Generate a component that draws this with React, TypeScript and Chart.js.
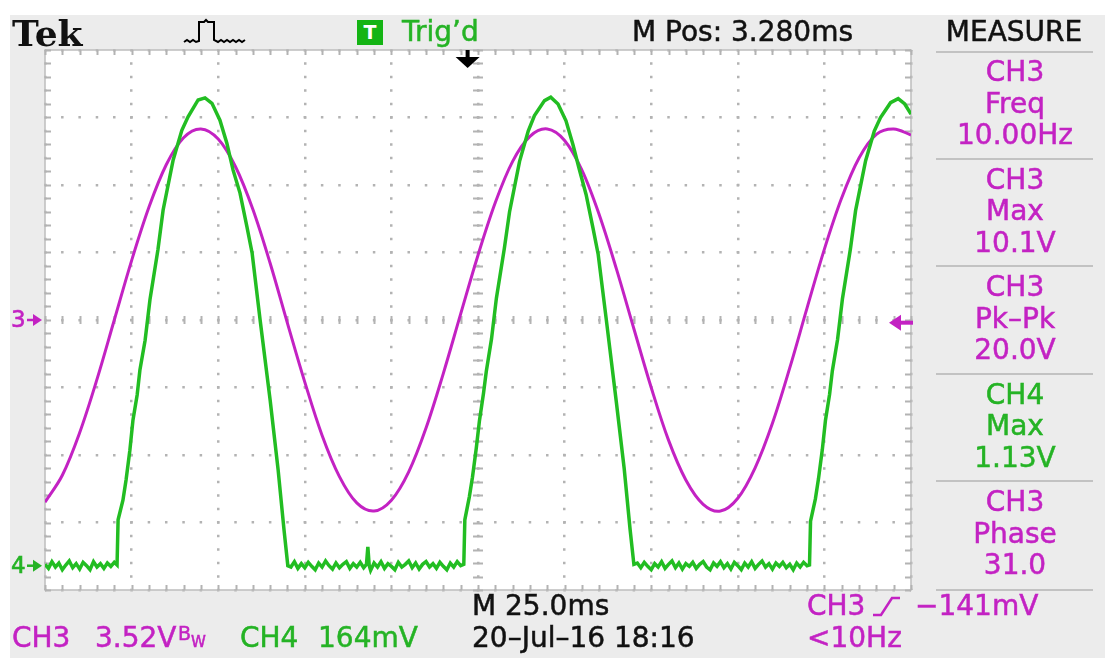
import React, { useEffect, useRef } from "react";
import { Chart, registerables } from "chart.js";

Chart.register(...registerables);

const W = 1105;
const H = 658;

// Time axis (ms): 10 divisions x 25 ms/div
const X_MIN = 0;
const X_MAX = 250;
const X_STEP = 25;
const X_MINOR = 5;
// Vertical axis in divisions
const Y_MIN = -4;
const Y_MAX = 4;
const Y_STEP = 1;
const Y_MINOR = 0.2;

// CH3 (magenta) trace, in divisions
const ch3TimeMs = [0, 5, 10, 15, 20, 25, 30, 35, 40, 45, 50, 55, 60, 65, 70, 75, 80, 85, 90, 95, 100, 105, 110, 115, 120, 125, 130, 135, 140, 145, 150, 155, 160, 165, 170, 175, 180, 185, 190, 195, 200, 205, 210, 215, 220, 225, 230, 235, 240, 245, 250];
const ch3Div = [-2.7, -2.3, -1.67, -0.88, 0.0, 0.88, 1.67, 2.3, 2.7, 2.83, 2.68, 2.27, 1.64, 0.84, -0.05, -0.92, -1.71, -2.32, -2.71, -2.83, -2.67, -2.25, -1.6, -0.79, 0.09, 0.96, 1.74, 2.35, 2.72, 2.83, 2.66, 2.22, 1.56, 0.75, -0.13, -1.0, -1.78, -2.37, -2.73, -2.83, -2.64, -2.19, -1.53, -0.71, 0.18, 1.05, 1.81, 2.4, 2.75, 2.83, 2.74];

// CH4 (green) trace, [time ms, divisions], segment by segment
const ch4Low1: [number, number][] = [
  [0, -3.62], [1, -3.68], [2, -3.58], [3, -3.66], [4, -3.6], [5, -3.7], [6, -3.63], [7, -3.57], [8, -3.67], [9, -3.61], [10, -3.69],
  [11, -3.59], [12, -3.64], [13, -3.7], [14, -3.58], [15, -3.66], [16, -3.61], [17, -3.68], [18, -3.6], [19, -3.65], [20, -3.59], [20.8, -3.63],
];
const ch4Pulse1: [number, number][] = [
  [21.1, -2.96], [22.5, -2.67], [23.4, -2.37], [24.5, -1.93], [25.4, -1.48], [26.6, -1.11], [27.4, -0.74], [28.9, -0.3], [30.3, 0.3],
  [32.6, 1.04], [34.1, 1.63], [37.0, 2.37], [39.5, 2.81], [41.3, 3.01], [44.2, 3.26], [46.2, 3.29], [48.2, 3.21], [50.5, 2.96],
  [52.5, 2.62], [54.3, 2.22], [56.3, 1.88], [58.3, 1.38], [59.8, 0.99], [62.1, 0.0], [65.0, -1.19], [67.3, -2.22], [69.0, -3.11], [70.1, -3.64],
];
const ch4Low2: [number, number][] = [
  [71, -3.66], [72, -3.58], [73, -3.68], [74, -3.61], [75, -3.67], [76, -3.59], [77, -3.65], [78, -3.7], [79, -3.6], [80, -3.66],
  [81, -3.57], [82, -3.64], [83, -3.69], [84, -3.6], [85, -3.67], [86, -3.62], [87, -3.58], [88, -3.68], [89, -3.61], [90, -3.66],
  [91, -3.59], [92, -3.67], [92.8, -3.62], [93.2, -3.36], [93.6, -3.64], [94, -3.71], [95, -3.6], [96, -3.66], [97, -3.58], [98, -3.68],
  [99, -3.61], [100, -3.65], [101, -3.7], [102, -3.59], [103, -3.66], [104, -3.62], [105, -3.57], [106, -3.67], [107, -3.6], [108, -3.69],
  [109, -3.62], [110, -3.58], [111, -3.66], [112, -3.61], [113, -3.68], [114, -3.59], [115, -3.65], [116, -3.7], [117, -3.6], [118, -3.66],
  [119, -3.58], [120, -3.64], [120.9, -3.62],
];
const ch4Pulse2: [number, number][] = [
  [121.2, -2.96], [122.5, -2.62], [123.4, -2.33], [124.5, -1.9], [125.4, -1.5], [126.6, -1.08], [127.4, -0.76], [128.9, -0.28], [130.3, 0.32],
  [132.6, 1.06], [134.1, 1.6], [137.0, 2.35], [139.5, 2.8], [141.3, 3.03], [144.2, 3.25], [146.0, 3.3], [148.1, 3.2], [150.4, 2.95],
  [152.4, 2.6], [154.2, 2.24], [156.2, 1.86], [158.2, 1.36], [159.7, 0.97], [162.0, 0.02], [164.9, -1.2], [167.2, -2.2], [168.9, -3.1], [170.0, -3.62],
];
const ch4Low3: [number, number][] = [
  [171, -3.6], [172, -3.67], [173, -3.59], [174, -3.65], [175, -3.7], [176, -3.61], [177, -3.66], [178, -3.58], [179, -3.68], [180, -3.62],
  [181, -3.57], [182, -3.67], [183, -3.6], [184, -3.69], [185, -3.61], [186, -3.65], [187, -3.59], [188, -3.68], [189, -3.62], [190, -3.58],
  [191, -3.66], [192, -3.7], [193, -3.6], [194, -3.65], [195, -3.58], [196, -3.67], [197, -3.61], [198, -3.69], [199, -3.59], [200, -3.64],
  [201, -3.7], [202, -3.6], [203, -3.66], [204, -3.58], [205, -3.68], [206, -3.62], [207, -3.57], [208, -3.66], [209, -3.61], [210, -3.69],
  [211, -3.6], [212, -3.65], [213, -3.59], [214, -3.67], [215, -3.62], [216, -3.7], [217, -3.6], [218, -3.66], [219, -3.59], [220, -3.64], [220.7, -3.63],
];
const ch4Pulse3: [number, number][] = [
  [221.0, -2.98], [222.4, -2.65], [223.3, -2.35], [224.4, -1.92], [225.3, -1.49], [226.5, -1.1], [227.3, -0.75], [228.8, -0.29], [230.2, 0.31],
  [232.5, 1.05], [234.0, 1.62], [236.9, 2.36], [239.4, 2.8], [241.2, 3.0], [244.1, 3.22], [246.3, 3.28], [248.2, 3.2], [250, 3.05],
];

// Markers
const CH3_GROUND = 0;
const CH4_GROUND = -3.64;
const TRIG_LEVEL = -0.04;
const TRIG_POS_MS = 122;

// Measurement panel
const measureChannels = ["CH3", "CH3", "CH3", "CH4", "CH3"];
const measureNames = ["Freq", "Max", "Pk\u2013Pk", "Max", "Phase"];
const measureValues = ["10.00Hz", "10.1V", "20.0V", "1.13V", "31.0"];

const MAGENTA = "#c322c3";
const GREEN = "#22bd22";
const GREEN_TXT = "#25b325";
const GRID = "#b3b3b3";
const PANEL_BG = "#ececec";
const FONT = "'DejaVu Sans', 'Liberation Sans', sans-serif";

const scopeDecor = {
  id: "scopeDecor",
  beforeDraw(chart: any) {
    const { ctx, chartArea: a } = chart;
    ctx.save();
    ctx.fillStyle = "#ffffff";
    ctx.fillRect(0, 0, W, H);
    ctx.fillStyle = PANEL_BG;
    ctx.fillRect(10, 15, W - 10, H - 15);
    ctx.fillStyle = "#ffffff";
    ctx.fillRect(a.left, a.top, a.width, a.height);
    ctx.restore();
  },
  beforeDatasetsDraw(chart: any) {
    const { ctx, chartArea: a, scales } = chart;
    const x = scales.x;
    const y = scales.y;
    ctx.save();
    ctx.strokeStyle = "#bdbdbd";
    ctx.lineWidth = 1.5;
    ctx.strokeRect(a.left, a.top, a.width, a.height);
    const xc = x.getPixelForValue((X_MIN + X_MAX) / 2);
    const yc = y.getPixelForValue(0);
    ctx.strokeStyle = GRID;
    ctx.lineWidth = 2;
    ctx.beginPath();
    for (let t = X_MIN; t <= X_MAX + 1e-6; t += X_MINOR) {
      const px = Math.round(x.getPixelForValue(t)) + 0.5;
      ctx.moveTo(px, a.top);
      ctx.lineTo(px, a.top + 5);
      ctx.moveTo(px, a.bottom);
      ctx.lineTo(px, a.bottom - 5);
      ctx.moveTo(px, yc - 4);
      ctx.lineTo(px, yc + 4);
    }
    for (let v = Y_MIN; v <= Y_MAX + 1e-6; v += Y_MINOR) {
      const py = Math.round(y.getPixelForValue(v)) + 0.5;
      ctx.moveTo(a.left, py);
      ctx.lineTo(a.left + 6, py);
      ctx.moveTo(a.right, py);
      ctx.lineTo(a.right - 6, py);
      ctx.moveTo(xc - 5, py);
      ctx.lineTo(xc + 5, py);
    }
    ctx.stroke();
    // measure panel separators
    ctx.strokeStyle = "#c2c2c2";
    ctx.lineWidth = 2;
    ctx.beginPath();
    const seps = [52, 159, 266, 374, 481, 590];
    seps.forEach((sy) => {
      ctx.moveTo(936, sy);
      ctx.lineTo(1093, sy);
    });
    ctx.stroke();
    ctx.restore();
  },
  afterDraw(chart: any) {
    const { ctx, chartArea: a, scales } = chart;
    const x = scales.x;
    const y = scales.y;
    ctx.save();
    // channel ground markers
    const marker = (label: string, val: number, color: string) => {
      const py = y.getPixelForValue(val);
      ctx.fillStyle = color;
      ctx.strokeStyle = color;
      ctx.font = `23px ${FONT}`;
      ctx.textBaseline = "middle";
      ctx.textAlign = "left";
      ctx.lineWidth = 0.6;
      ctx.fillText(label, 11, py + 1);
      ctx.strokeText(label, 11, py + 1);
      ctx.lineWidth = 2.5;
      ctx.beginPath();
      ctx.moveTo(27, py);
      ctx.lineTo(36, py);
      ctx.stroke();
      ctx.beginPath();
      ctx.moveTo(33, py - 6);
      ctx.lineTo(42, py);
      ctx.lineTo(33, py + 6);
      ctx.closePath();
      ctx.fill();
    };
    marker("3", CH3_GROUND, MAGENTA);
    marker("4", CH4_GROUND, GREEN_TXT);
    // trigger level arrow (right)
    const ly = y.getPixelForValue(TRIG_LEVEL);
    ctx.fillStyle = MAGENTA;
    ctx.strokeStyle = MAGENTA;
    ctx.lineWidth = 4;
    ctx.beginPath();
    ctx.moveTo(897, ly);
    ctx.lineTo(913, ly);
    ctx.stroke();
    ctx.beginPath();
    ctx.moveTo(889, ly);
    ctx.lineTo(901, ly - 8);
    ctx.lineTo(901, ly + 8);
    ctx.closePath();
    ctx.fill();
    // trigger position arrow (top)
    const tx = x.getPixelForValue(TRIG_POS_MS);
    ctx.fillStyle = "#000";
    ctx.strokeStyle = "#000";
    ctx.lineWidth = 4;
    ctx.beginPath();
    ctx.moveTo(tx, a.top);
    ctx.lineTo(tx, a.top + 9);
    ctx.stroke();
    ctx.beginPath();
    ctx.moveTo(tx - 12, a.top + 7);
    ctx.lineTo(tx + 12, a.top + 7);
    ctx.lineTo(tx, a.top + 18);
    ctx.closePath();
    ctx.fill();
    // pulse glyph in header
    ctx.lineWidth = 2;
    ctx.beginPath();
    ctx.moveTo(184, 42);
    const wav1 = [187, 190, 193, 196];
    wav1.forEach((wx, i) => ctx.lineTo(wx, i % 2 ? 42 : 40));
    ctx.lineTo(199, 41);
    ctx.lineTo(199, 22);
    ctx.lineTo(204, 22);
    ctx.lineTo(206, 20);
    ctx.lineTo(208, 22);
    ctx.lineTo(214, 22);
    ctx.lineTo(214, 40);
    ctx.lineTo(218, 42);
    const wav2 = [221, 224, 227, 230, 233, 236, 239, 242, 245];
    wav2.forEach((wx, i) => ctx.lineTo(wx, i % 2 ? 42 : 40));
    ctx.stroke();
    // trigger slope glyph in footer
    ctx.strokeStyle = MAGENTA;
    ctx.lineWidth = 2.5;
    ctx.beginPath();
    ctx.moveTo(873, 615);
    ctx.lineTo(881, 615);
    ctx.lineTo(892, 598);
    ctx.lineTo(900, 598);
    ctx.stroke();
    ctx.restore();
  },
};

type Lbl = {
  text: string;
  x: number;
  y: number;
  color?: string;
  size?: number;
  center?: boolean;
  family?: string;
  weight?: number;
};

function Label({ text, x, y, color = "#111", size = 28, center = false, family = FONT, weight = 400 }: Lbl) {
  return (
    <div
      style={{
        position: "absolute",
        left: x,
        top: y,
        transform: `translate(${center ? "-50%" : "0"}, -50%)`,
        color,
        fontSize: size,
        fontFamily: family,
        fontWeight: weight,
        lineHeight: 1,
        whiteSpace: "pre",
        WebkitTextStroke: weight >= 700 ? "0px" : `0.5px ${color}`,
      }}
    >
      {text}
    </div>
  );
}

export default function App() {
  const canvasRef = useRef<HTMLCanvasElement | null>(null);

  useEffect(() => {
    const canvas = canvasRef.current;
    if (!canvas) return;
    const ch4Points = [...ch4Low1, ...ch4Pulse1, ...ch4Low2, ...ch4Pulse2, ...ch4Low3, ...ch4Pulse3];
    const chart = new Chart(canvas, {
      type: "line",
      data: {
        datasets: [
          {
            label: "CH4",
            data: ch4Points.map(([t, v]) => ({ x: t, y: v })),
            borderColor: GREEN,
            borderWidth: 3.5,
            pointRadius: 0,
            tension: 0,
            fill: false,
          },
          {
            label: "CH3",
            data: ch3TimeMs.map((t, i) => ({ x: t, y: ch3Div[i] })),
            borderColor: MAGENTA,
            borderWidth: 3,
            pointRadius: 0,
            tension: 0.35,
            fill: false,
          },
        ],
      },
      options: {
        responsive: false,
        animation: false,
        devicePixelRatio: 1,
        events: [],
        layout: { padding: { left: 45, top: 50, right: W - 911, bottom: H - 590 } },
        plugins: {
          legend: { display: false },
          tooltip: { enabled: false },
          title: { display: false },
        },
        scales: {
          x: {
            type: "linear",
            min: X_MIN,
            max: X_MAX,
            ticks: { display: false, stepSize: X_STEP },
            grid: { color: GRID, lineWidth: 2.5, drawTicks: false },
            border: { display: false, dash: [2.5, 11], dashOffset: 1.25 },
          },
          y: {
            type: "linear",
            min: Y_MIN,
            max: Y_MAX,
            ticks: { display: false, stepSize: Y_STEP },
            grid: { color: GRID, lineWidth: 2.5, drawTicks: false },
            border: { display: false, dash: [2.5, 14.82], dashOffset: 1.25 },
          },
        },
      },
      plugins: [scopeDecor],
    } as any);
    return () => chart.destroy();
  }, []);

  const blockTop = 72;
  const blockStep = 107.5;

  return (
    <div style={{ position: "fixed", left: 0, top: 0, width: W, height: H, background: "#fff", overflow: "hidden" }}>
      <canvas ref={canvasRef} width={W} height={H} style={{ position: "absolute", left: 0, top: 0 }} />
      {/* header */}
      <Label text="Tek" x={12} y={33} size={36} weight={700} family="'DejaVu Serif', 'Liberation Serif', serif" />
      <div
        style={{
          position: "absolute",
          left: 357,
          top: 20,
          width: 26,
          height: 25,
          background: "#14b414",
          color: "#fff",
          fontFamily: FONT,
          fontWeight: 700,
          fontSize: 19,
          lineHeight: "25px",
          textAlign: "center",
        }}
      >
        T
      </div>
      <Label text={"Trig\u2019d"} x={402} y={32} color={GREEN_TXT} />
      <Label text="M Pos: 3.280ms" x={632} y={32} />
      <Label text="MEASURE" x={1014} y={32} center />
      {/* measurement panel */}
      {measureChannels.map((ch, i) => {
        const c = ch === "CH4" ? GREEN_TXT : MAGENTA;
        const top = blockTop + i * blockStep;
        return (
          <React.Fragment key={i}>
            <Label text={ch} x={1015} y={top} color={c} center />
            <Label text={measureNames[i]} x={1015} y={top + 31.5} color={c} center />
            <Label text={measureValues[i]} x={1015} y={top + 63} color={c} center />
          </React.Fragment>
        );
      })}
      {/* footer */}
      <Label text="M 25.0ms" x={472} y={606} />
      <Label text={"20\u2013Jul\u201316 18:16"} x={472} y={638} />
      <Label text="CH3" x={12} y={638} color={MAGENTA} />
      <Label text="3.52V" x={95} y={638} color={MAGENTA} />
      <Label text="B" x={178} y={633} color={MAGENTA} size={19} />
      <Label text="W" x={191} y={642} color={MAGENTA} size={15} />
      <Label text="CH4" x={240} y={638} color={GREEN_TXT} />
      <Label text="164mV" x={318} y={638} color={GREEN_TXT} />
      <Label text="CH3" x={807} y={606} color={MAGENTA} />
      <Label text={"\u2212141mV"} x={915} y={606} color={MAGENTA} />
      <Label text="<10Hz" x={807} y={638} color={MAGENTA} />
    </div>
  );
}
